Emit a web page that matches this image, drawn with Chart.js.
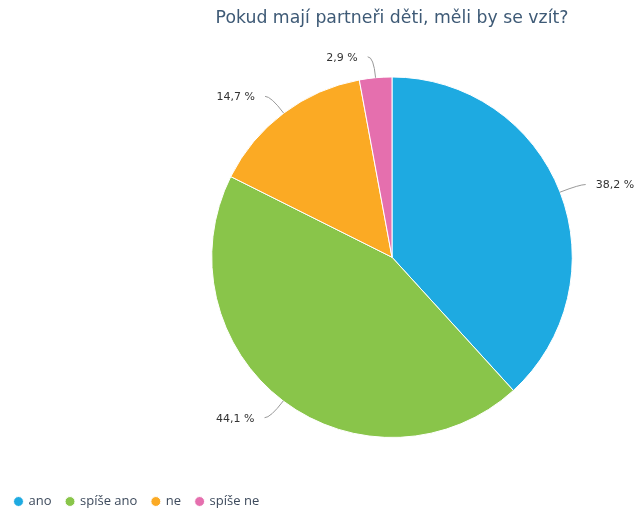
<!DOCTYPE html>
<html>
<head>
<meta charset="utf-8">
<script src="https://cdn.jsdelivr.net/npm/chart.js@4"></script>
<style>
  body { margin: 0; background: #fff; }
  #wrap { width: 637px; height: 513px; }
</style>
</head>
<body>
<div id="wrap"><canvas id="pie-chart"></canvas></div>
<script>
const titulek = "Pokud mají partneři děti, měli by se vzít?";
const odpovedi = ["ano", "spíše ano", "ne", "spíše ne"];
const procenta = [38.2, 44.1, 14.7, 2.9];
const barvy = ["#1eaae1", "#89c54a", "#fbaa24", "#e56fae"];

// popisky venku s vodici carou
const popiskyPlugin = {
  id: "popisky",
  afterDatasetsDraw(chart) {
    const ctx = chart.ctx;
    const meta = chart.getDatasetMeta(0);
    ctx.save();
    ctx.font = "11px 'DejaVu Sans'";
    ctx.textBaseline = "middle";
    meta.data.forEach((arc, i) => {
      const p = arc.getProps(["x", "y", "startAngle", "endAngle", "outerRadius"], true);
      const uhel = (p.startAngle + p.endAngle) / 2;
      const cos = Math.cos(uhel);
      const sin = Math.sin(uhel);
      const x0 = p.x + cos * p.outerRadius;
      const y0 = p.y + sin * p.outerRadius;
      const x1 = p.x + cos * (p.outerRadius + 21);
      const y1 = p.y + sin * (p.outerRadius + 21);
      const vpravo = cos >= 0;
      const x2 = x1 + (vpravo ? 6 : -6);
      ctx.strokeStyle = "#999999";
      ctx.lineWidth = 1;
      ctx.beginPath();
      ctx.moveTo(x0, y0);
      ctx.quadraticCurveTo(x1, y1, x2, y1);
      ctx.stroke();
      ctx.fillStyle = "#333333";
      ctx.textAlign = vpravo ? "left" : "right";
      const text = procenta[i].toFixed(1).replace(".", ",") + " %";
      ctx.fillText(text, x2 + (vpravo ? 10 : -10), y1 + 1);
    });
    ctx.restore();
  }
};

const config = {
  type: "pie",
  data: {
    labels: odpovedi,
    datasets: [{
      data: procenta,
      backgroundColor: barvy,
      borderColor: "#ffffff",
      borderWidth: 1,
    }],
  },
  options: {
    responsive: true,
    maintainAspectRatio: false,
    animation: false,
    layout: {
      padding: { top: 0, left: 0, right: 0, bottom: -5 },
    },
    plugins: {
      title: {
        display: true,
        text: titulek,
        fullSize: false,
        color: "#3e5a76",
        font: { family: "'DejaVu Sans'", size: 17.3, weight: "normal", lineHeight: 1.2 },
        padding: { top: 8.1, bottom: 47.6 },
      },
      // prazdny odsazovac vlevo, aby kolac byl posunuty doprava
      subtitle: {
        display: true,
        text: " ",
        position: "left",
        font: { size: 10, lineHeight: 1.2 },
        padding: { top: 67.5, bottom: 67.5 },
      },
      legend: {
        position: "bottom",
        align: "start",
        title: {
          display: true,
          text: " ",
          font: { size: 12, lineHeight: 1.2 },
          padding: { top: 27.6, bottom: 0 },
        },
        labels: {
          usePointStyle: true,
          pointStyle: "circle",
          boxWidth: 7,
          boxHeight: 7,
          padding: 15,
          color: "#3d4a5c",
          font: { family: "'Open Sans'", size: 13 },
        },
      },
      tooltip: { enabled: false },
    },
  },
  plugins: [popiskyPlugin],
};

const ctx = document.getElementById("pie-chart").getContext("2d");
const kolac = new Chart(ctx, config);
</script>
</body>
</html>
